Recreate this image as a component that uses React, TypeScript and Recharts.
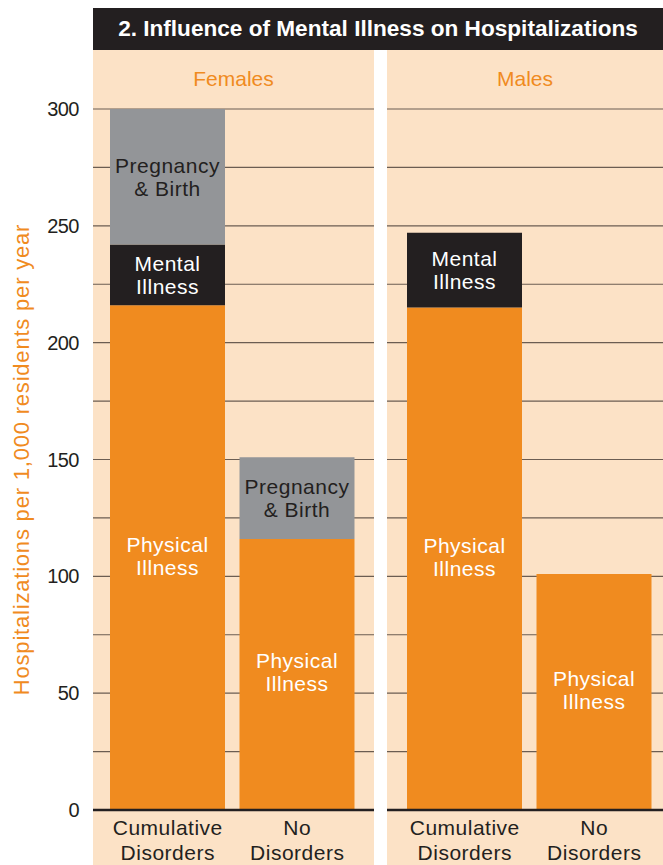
import React from 'react';
import { BarChart, Bar, XAxis, YAxis, CartesianGrid, ReferenceLine, LabelList } from 'recharts';

const CATEGORIES = ['Cumulative Disorders', 'No Disorders'];
const FEMALE_PHYSICAL = [216, 116];
const FEMALE_MENTAL = [26, 0];
const FEMALE_PREGNANCY = [58, 35];
const MALE_PHYSICAL = [215, 101];
const MALE_MENTAL = [32, 0];
const MALE_PREGNANCY = [0, 0];
const Y_TICKS = [0, 25, 50, 75, 100, 125, 150, 175, 200, 225, 250, 275, 300];

const ORANGE = '#F08B1F';
const BLACK = '#231F20';
const GREY = '#939598';
const PEACH = '#FCE2C6';
const GRID = '#6b5d52';
const FONT = '"Liberation Sans Narrow", "Liberation Sans", Arial, sans-serif';

const femaleData = CATEGORIES.map((c, i) => ({
  name: c,
  physical: FEMALE_PHYSICAL[i],
  mental: FEMALE_MENTAL[i],
  pregnancy: FEMALE_PREGNANCY[i],
}));

const maleData = CATEGORIES.map((c, i) => ({
  name: c,
  physical: MALE_PHYSICAL[i],
  mental: MALE_MENTAL[i],
  pregnancy: MALE_PREGNANCY[i],
}));

const segmentLabel = (lines: string[], color: string, shift = 0) => (props: any) => {
  const { x, y, width, height } = props;
  if (!height || height <= 0) return null;
  const cx = x + width / 2;
  const cy = y + height / 2;
  return (
    <text
      x={cx}
      y={cy}
      textAnchor="middle"
      fill={color}
      fontFamily={FONT}
      fontSize={21}
      letterSpacing={0.5}
    >
      <tspan x={cx} dy={-4 + shift}>{lines[0]}</tspan>
      <tspan x={cx} dy={23}>{lines[1]}</tspan>
    </text>
  );
};

const CategoryTick = (props: any) => {
  const { x, y, payload } = props;
  const words = String(payload.value).split(' ');
  return (
    <text x={x} y={y} textAnchor="middle" fill={BLACK} fontFamily={FONT} fontSize={21} letterSpacing={0.5}>
      <tspan x={x} dy={17}>{words[0]}</tspan>
      <tspan x={x} dy={25}>{words[1]}</tspan>
    </text>
  );
};

const AxisTitle = (props: any) => {
  const vb = props.viewBox;
  const cx = 21;
  const cy = vb.y + vb.height / 2;
  return (
    <text
      x={cx}
      y={cy}
      transform={`rotate(-90 ${cx} ${cy})`}
      textAnchor="middle"
      dominantBaseline="central"
      fill={ORANGE}
      fontFamily={FONT}
      fontSize={22}
      letterSpacing={0.8}
    >
      Hospitalizations per 1,000 residents per year
    </text>
  );
};

function Panel({ data, showAxis, padding }: { data: any[]; showAxis: boolean; padding: { left: number; right: number } }) {
  return (
    <BarChart
      width={showAxis ? 374 : 276}
      height={815}
      data={data}
      margin={{ top: 59, right: 0, bottom: 0, left: 0 }}
      barSize={115}
    >
      <CartesianGrid horizontal vertical={false} stroke={GRID} strokeWidth={1.2} />
      <XAxis
        dataKey="name"
        axisLine={false}
        tickLine={false}
        height={55}
        padding={padding}
        tick={<CategoryTick />}
        interval={0}
      />
      <YAxis
        domain={[0, 300]}
        ticks={Y_TICKS}
        width={93}
        hide={!showAxis}
        axisLine={false}
        tickLine={false}
        tickFormatter={(v: number) => (v % 50 === 0 ? String(v) : '')}
        tick={{ fill: BLACK, fontFamily: FONT, fontSize: 20, letterSpacing: -0.5 }}
        tickMargin={8}
        label={showAxis ? <AxisTitle /> : undefined}
      />
      <Bar dataKey="physical" stackId="a" fill={ORANGE} isAnimationActive={false}>
        <LabelList content={segmentLabel(['Physical', 'Illness'], '#FFFFFF', -2)} />
      </Bar>
      <Bar dataKey="mental" stackId="a" fill={BLACK} isAnimationActive={false}>
        <LabelList content={segmentLabel(['Mental', 'Illness'], '#FFFFFF')} />
      </Bar>
      <Bar dataKey="pregnancy" stackId="a" fill={GREY} isAnimationActive={false}>
        <LabelList content={segmentLabel(['Pregnancy', '& Birth'], BLACK)} />
      </Bar>
      <ReferenceLine y={0} stroke={BLACK} strokeWidth={2.5} />
    </BarChart>
  );
}

export default function App() {
  return (
    <div style={{ position: 'absolute', left: 0, top: 0, width: 663, height: 865, background: '#fff', fontFamily: FONT }}>
      <div
        style={{
          position: 'absolute', left: 93, top: 8, width: 570, height: 42, background: BLACK,
          color: '#fff', fontWeight: 'bold', fontSize: 22.6, display: 'flex', alignItems: 'center', justifyContent: 'center',
        }}
      >
        2. Influence of Mental Illness on Hospitalizations
      </div>
      <div style={{ position: 'absolute', left: 93, top: 50, width: 281, height: 815, background: PEACH }} />
      <div style={{ position: 'absolute', left: 387, top: 50, width: 276, height: 815, background: PEACH }} />
      <div style={{ position: 'absolute', left: 93, top: 67, width: 281, textAlign: 'center', color: ORANGE, fontSize: 21 }}>
        Females
      </div>
      <div style={{ position: 'absolute', left: 387, top: 67, width: 276, textAlign: 'center', color: ORANGE, fontSize: 21 }}>
        Males
      </div>
      <div style={{ position: 'absolute', left: 0, top: 50 }}>
        <Panel data={femaleData} showAxis padding={{ left: 10, right: 12 }} />
      </div>
      <div style={{ position: 'absolute', left: 387, top: 50 }}>
        <Panel data={maleData} showAxis={false} padding={{ left: 13, right: 4 }} />
      </div>
    </div>
  );
}
